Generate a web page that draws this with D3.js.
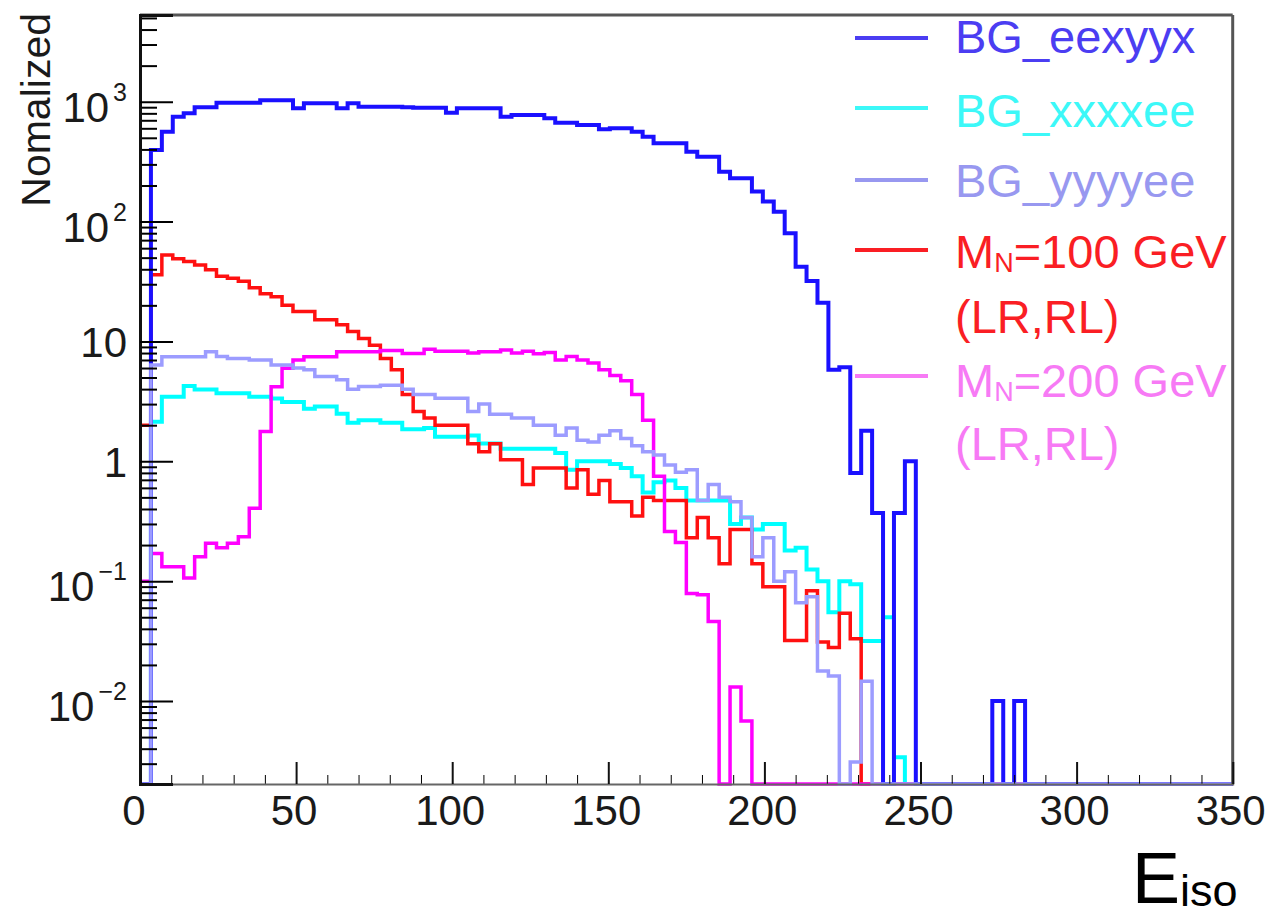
<!DOCTYPE html>
<html>
<head>
<meta charset="utf-8">
<script src="https://cdn.jsdelivr.net/npm/d3@7"></script>
<style>
  body { margin: 0; background: #fff; }
  svg { display: block; font-family: "Liberation Sans", Arial, Helvetica, sans-serif; }
</style>
</head>
<body>
<div id="chart"></div>
<script>
// histogram: 100 bins from 0 to 350
const binWidth = 3.5

const eexyyx = [0,396,562,750,800,900,900,980,980,980,
  980,1030,1030,1030,880,970,970,970,880,970,
  910,910,910,910,900,890,890,890,810,880,
  880,880,880,750,775,775,775,727,668,668,
  640,640,588,600,600,562,510,450,450,450,
  383,348,348,260,230,230,178,147,121,80,
  42,32,21,5.8,6.1,0.8,1.8,0.37,0,0.37,
  1.0,0,0,0,0,0,0,0,0.01,0,
  0.01,0,0,0,0,0,0,0,0,0,
  0,0,0,0,0,0,0,0,0,0]

const xxxxee = [0,2.14,3.46,3.46,4.25,3.98,3.98,3.69,3.69,3.69,
  3.46,3.46,3.34,3.13,3.13,2.75,2.86,2.86,2.49,2.1,
  2.2,2.2,2.1,2.1,1.85,1.85,1.9,1.6,1.6,1.6,
  1.64,1.41,1.41,1.27,1.27,1.27,1.27,1.27,1.17,0.85,
  1.0,1.0,1.0,0.95,0.88,0.75,0.55,0.67,0.69,0.6,
  0.47,0.47,0.47,0.47,0.3,0.34,0.27,0.3,0.3,0.18,
  0.19,0.125,0.1,0.055,0.1,0.094,0.0316,0.0316,0.05,0.0034,
  0,0,0,0,0,0,0,0,0,0,
  0,0,0,0,0,0,0,0,0,0,
  0,0,0,0,0,0,0,0,0,0]

const yyyyee = [0,6.35,7.45,7.45,7.45,7.45,8.2,7.5,7.2,7.2,
  7.0,7.0,6.35,6.35,6.0,5.8,5.1,5.1,4.8,4.0,
  4.2,4.2,4.3,4.3,4.0,3.6,3.6,3.35,3.35,3.35,
  2.6,3.0,2.47,2.47,2.3,2.3,2.0,2.0,1.65,1.9,
  1.5,1.45,1.65,1.8,1.55,1.35,1.2,1.13,0.93,0.81,
  0.85,0.47,0.64,0.5,0.46,0.34,0.16,0.23,0.1,0.12,
  0.066,0.074,0.0178,0.0162,0,0.0031,0.0146,0,0,0,
  0,0,0,0,0,0,0,0,0,0,
  0,0,0,0,0,0,0,0,0,0,
  0,0,0,0,0,0,0,0,0,0]

const mn100 = [2.0,36,52.6,49,46.5,43.4,39.6,35,33.7,31.7,
  28,25,23.6,20,17.8,17.8,15.2,15.2,13.8,12.1,
  10.6,9.3,7.2,5.8,3.6,2.6,2.3,2.0,2.0,2.0,
  1.4,1.2,1.4,1.03,1.03,0.64,0.88,0.88,0.88,0.6,
  0.85,0.53,0.69,0.46,0.46,0.35,0.5,0.47,0.47,0.47,
  0.23,0.34,0.23,0.14,0.27,0.27,0.14,0.09,0.09,0.032,
  0.032,0.083,0.031,0.028,0.054,0.033,0,0,0,0,
  0,0,0,0,0,0,0,0,0,0,
  0,0,0,0,0,0,0,0,0,0,
  0,0,0,0,0,0,0,0,0,0]

const mn200 = [0.1,0.17,0.132,0.132,0.106,0.16,0.207,0.19,0.207,0.235,
  0.405,1.77,4.19,5.96,7.0,7.45,7.45,7.45,8.2,8.2,
  8.2,8.2,8.4,8.4,7.94,7.94,8.6,8.3,8.3,8.3,
  8.0,8.2,8.2,8.5,8.0,8.3,7.9,8.1,7.0,7.5,
  7.0,6.6,5.8,5.2,4.7,3.6,2.2,0.75,0.26,0.21,
  0.079,0.077,0.046,0,0.0131,0.0068,0,0,0,0,
  0,0,0,0,0,0,0,0,0,0,
  0,0,0,0,0,0,0,0,0,0,
  0,0,0,0,0,0,0,0,0,0,
  0,0,0,0,0,0,0,0,0,0]

const xTickValues = [0,50,100,150,200,250,300,350]
const yTickValues = [1e-2,1e-1,1,10,100,1000]
const yTickBase = ["10","10","1","10","10","10"]
const yTickExp = ["\u22122","\u22121","","","2","3"]

// drawing order: last one ends up on top
const series = [
  {name:"BG_xxxxee", values:xxxxee, color:"#00ffff", width:4},
  {name:"M100", values:mn100, color:"#ff1010", width:3.5},
  {name:"M200", values:mn200, color:"#ff00ff", width:3.5},
  {name:"BG_eexyyx", values:eexyyx, color:"#1a10ff", width:4},
  {name:"BG_yyyyee", values:yyyyee, color:"#9c9cff", width:3.5}
]

const legendRows = [
  {label:"BG_eexyyx", color:"#4b3df2", ly:38, ty:53},
  {label:"BG_xxxxee", color:"#3cf8f8", ly:108, ty:127},
  {label:"BG_yyyyee", color:"#9898f0", ly:180, ty:197},
  {label:"=100 GeV", sub:true, color:"#fa1e24", ly:250, ty:268, extra:333},
  {label:"=200 GeV", sub:true, color:"#f77af5", ly:376, ty:397, extra:460}
]

const W = 1270, H = 921
const frame = {left:140, right:1232.7, top:15, bottom:784}

const x = d3.scaleLinear().domain([0,350]).range([frame.left, frame.right])
const y = d3.scaleLog()
  .domain([Math.pow(10,-2.6925), Math.pow(10,3.7235)])
  .range([frame.bottom, frame.top])
const yv = v => v > 0 ? y(v) : frame.bottom

const svg = d3.select("#chart")
  .append("svg")
    .attr("width", W)
    .attr("height", H)

svg.append("rect").attr("width", W).attr("height", H).attr("fill", "#fff")

// histograms as step lines
const line = d3.line()
  .x(d => x(d[0]))
  .y(d => yv(d[1]))
  .curve(d3.curveStepAfter)

series.forEach(s => {
  const pts = s.values.map((v,i) => [i*binWidth, v])
  pts.push([s.values.length*binWidth, s.values[s.values.length-1]])
  svg.append("path")
    .datum(pts)
    .attr("d", line)
    .attr("fill", "none")
    .attr("stroke", s.color)
    .attr("stroke-width", s.width)
    .attr("stroke-linejoin", "miter")
})

// frame
svg.append("line")
  .attr("x1", frame.left).attr("x2", frame.right)
  .attr("y1", frame.top).attr("y2", frame.top)
  .attr("stroke", "#555").attr("stroke-width", 3)
svg.append("line")
  .attr("x1", frame.right).attr("x2", frame.right)
  .attr("y1", frame.top).attr("y2", frame.bottom)
  .attr("stroke", "#555").attr("stroke-width", 3)

// x axis, ticks inward
const minorX = d3.range(0, 351, 10).filter(v => v % 50 != 0)
svg.append("g")
  .attr("transform", "translate(0," + frame.bottom + ")")
  .call(d3.axisBottom(x).tickValues(minorX).tickSize(-9).tickFormat(""))
  .call(g => g.select(".domain").remove())
svg.append("g")
  .attr("transform", "translate(0," + frame.bottom + ")")
  .call(d3.axisBottom(x).tickValues(xTickValues).tickSize(-22).tickFormat(""))
  .call(g => g.select(".domain").attr("stroke", "#666").attr("stroke-width", 2))
  .call(g => g.selectAll(".tick line").attr("stroke", "#111").attr("stroke-width", 2))

svg.selectAll(null)
  .data(xTickValues)
  .enter()
  .append("text")
    .attr("x", d => x(d) - (d == 0 ? 6 : 2))
    .attr("y", 825)
    .attr("text-anchor", "middle")
    .attr("font-size", 42)
    .attr("fill", "#1a1a1a")
    .text(d => d)

// y axis, log ticks inward
const minorY = []
for (let k = -3; k <= 3; k++) {
  for (let m = 2; m <= 9; m++) {
    const v = m * Math.pow(10, k)
    if (v >= y.domain()[0] && v <= y.domain()[1]) minorY.push(v)
  }
}
svg.append("g")
  .attr("transform", "translate(" + frame.left + ",0)")
  .call(d3.axisLeft(y).tickValues(minorY).tickSize(-17).tickFormat(""))
  .call(g => g.select(".domain").remove())
  .call(g => g.selectAll(".tick line").attr("stroke-width", 2))
svg.append("g")
  .attr("transform", "translate(" + frame.left + ",0)")
  .call(d3.axisLeft(y).tickValues(yTickValues).tickSize(-33).tickFormat(""))
  .call(g => g.select(".domain").attr("stroke", "#111").attr("stroke-width", 3))
  .call(g => g.selectAll(".tick line").attr("stroke-width", 2))

const ylab = svg.selectAll(null)
  .data(yTickValues)
  .enter()
  .append("text")
    .attr("x", 127)
    .attr("y", (d,i) => y(d) + (yTickExp[i] ? 20 : 15.5))
    .attr("text-anchor", "end")
    .attr("font-size", 42)
    .attr("fill", "#1a1a1a")
ylab.append("tspan").text((d,i) => yTickBase[i])
ylab.filter((d,i) => yTickExp[i] != "")
  .append("tspan")
    .attr("dx", 4)
    .attr("dy", -21)
    .attr("font-size", 25)
    .text(d => yTickExp[yTickValues.indexOf(d)])

// axis titles
svg.append("text")
  .attr("transform", "translate(50,13) rotate(-90)")
  .attr("text-anchor", "end")
  .attr("font-size", 41)
  .attr("fill", "#1a1a1a")
  .text("Nomalized")

const xt = svg.append("text")
  .attr("x", 1132)
  .attr("y", 903)
  .attr("fill", "#000")
  .attr("font-size", 72)
xt.append("tspan").text("E")
xt.append("tspan").attr("font-size", 45).attr("dy", 3).text("iso")

// legend
const leg = svg.append("g")
legendRows.forEach(r => {
  leg.append("line")
    .attr("x1", 855).attr("x2", 928)
    .attr("y1", r.ly).attr("y2", r.ly)
    .attr("stroke", r.color).attr("stroke-width", 4)
  const t = leg.append("text")
    .attr("x", 955)
    .attr("y", r.ty)
    .attr("font-size", 47)
    .attr("fill", r.color)
  if (r.sub) {
    t.append("tspan").text("M")
    t.append("tspan").attr("font-size", 27).attr("dy", 4).text("N")
    t.append("tspan").attr("dy", -4).text(r.label)
    leg.append("text")
      .attr("x", 955)
      .attr("y", r.extra)
      .attr("font-size", 47)
      .attr("fill", r.color)
      .text("(LR,RL)")
  } else {
    t.text(r.label)
  }
})
</script>
</body>
</html>
